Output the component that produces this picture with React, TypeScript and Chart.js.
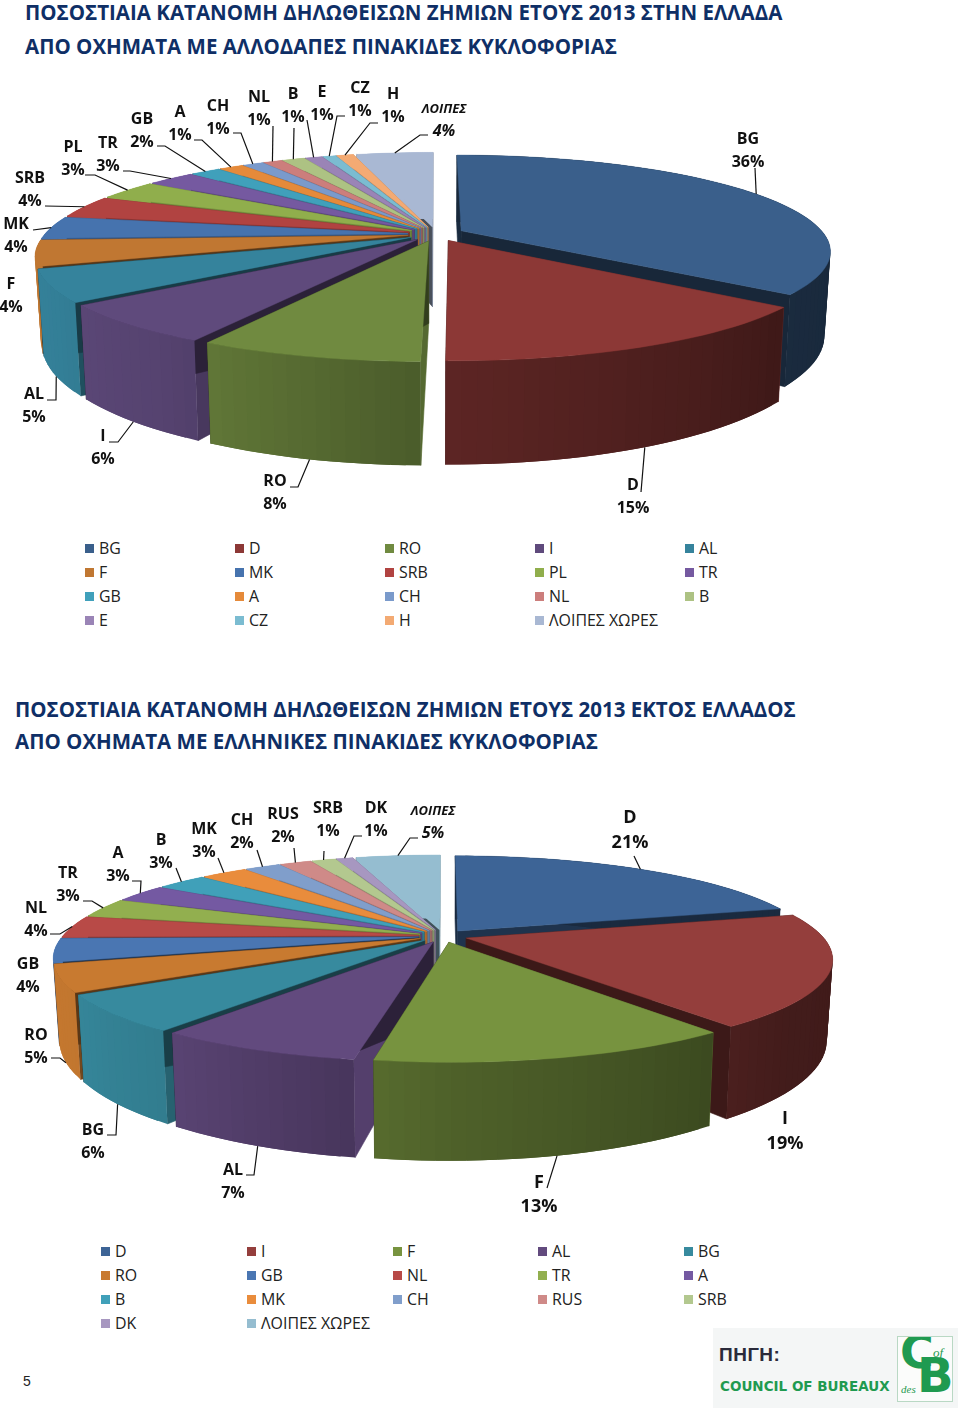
import React, { useEffect, useRef } from "react";
import Chart from "chart.js/auto";

const FONT = "'Open Sans', 'Noto Sans', sans-serif";

// ---------- data ----------
const title1 = ["ΠΟΣΟΣΤΙΑΙΑ ΚΑΤΑΝΟΜΗ ΔΗΛΩΘΕΙΣΩΝ ΖΗΜΙΩΝ ΕΤΟΥΣ 2013 ΣΤΗΝ ΕΛΛΑΔΑ", "ΑΠΟ ΟΧΗΜΑΤΑ ΜΕ ΑΛΛΟΔΑΠΕΣ ΠΙΝΑΚΙΔΕΣ ΚΥΚΛΟΦΟΡΙΑΣ"];
const title2 = ["ΠΟΣΟΣΤΙΑΙΑ ΚΑΤΑΝΟΜΗ ΔΗΛΩΘΕΙΣΩΝ ΖΗΜΙΩΝ ΕΤΟΥΣ 2013 ΕΚΤΟΣ ΕΛΛΑΔΟΣ", "ΑΠΟ ΟΧΗΜΑΤΑ ΜΕ ΕΛΛΗΝΙΚΕΣ ΠΙΝΑΚΙΔΕΣ ΚΥΚΛΟΦΟΡΙΑΣ"];

const categories1 = ["BG", "D", "RO", "I", "AL", "F", "MK", "SRB", "PL", "TR", "GB", "A", "CH", "NL", "B", "E", "CZ", "H", "ΛΟΙΠΕΣ ΧΩΡΕΣ"];
const values1 = [35.5, 14.7, 7.9, 6.49, 5.3, 4.3, 3.7, 3.6, 3.2, 2.5, 1.6, 1.3, 1.1, 1, 1.2, 0.9, 0.7, 0.9, 4.1];
const colors1 = ["#3a5f8b", "#8c3836", "#708a40", "#5f4a7c", "#35839c", "#c07732", "#4673ae", "#b14341", "#90ae4c", "#7559a0", "#40a0bb", "#e58a3a", "#7a9acb", "#cc7e7c", "#adc283", "#9a84b6", "#7bbcd1", "#f3aa73", "#a9b8d3"];

const categories2 = ["D", "I", "F", "AL", "BG", "RO", "GB", "NL", "TR", "A", "B", "MK", "CH", "RUS", "SRB", "DK", "ΛΟΙΠΕΣ ΧΩΡΕΣ"];
const values2 = [20.8, 18.7, 13.1, 7.49, 6.1, 4.5, 3.9, 3.6, 3.1, 2.9, 2.7, 2.5, 1.9, 1.7, 1.3, 0.9, 4.6];
const colors2 = ["#3d6496", "#943e3c", "#77933f", "#624a7e", "#378a9e", "#c87a30", "#4a76b2", "#b84a47", "#92af4f", "#7459a2", "#40a0b9", "#e98c3c", "#809ecb", "#cf8a88", "#b3c88f", "#a797c0", "#95bdd0"];

// ---------- label layout: [centre x, first line y, second line y, big?, leader elbow points] (page pixels) ----------
type Lay = { x: number; y1: number; y2: number; big?: boolean; pts?: number[][] };
const layout1: Lay[] = [
  { x: 748, y1: 139, y2: 162, pts: [[755, 168]] },
  { x: 633, y1: 485, y2: 508, pts: [[641, 492]] },
  { x: 275, y1: 481, y2: 504, pts: [[290, 487], [298, 487]] },
  { x: 103, y1: 436, y2: 459, pts: [[109, 442], [118, 442]] },
  { x: 34, y1: 394, y2: 417, pts: [[47, 400], [56, 400]] },
  { x: 11, y1: 284, y2: 307 },
  { x: 16, y1: 224, y2: 247, pts: [[33, 230]] },
  { x: 30, y1: 178, y2: 201, pts: [[45, 206]] },
  { x: 73, y1: 147, y2: 170, pts: [[85, 175], [95, 175]] },
  { x: 108, y1: 143, y2: 166, pts: [[123, 171], [130, 171]] },
  { x: 142, y1: 119, y2: 142, pts: [[157, 146], [165, 146]] },
  { x: 180, y1: 112, y2: 135, pts: [[194, 140], [202, 140]] },
  { x: 218, y1: 106, y2: 129, pts: [[233, 133], [241, 133]] },
  { x: 259, y1: 97, y2: 120, pts: [[273, 126]] },
  { x: 293, y1: 94, y2: 117, pts: [[294, 128]] },
  { x: 322, y1: 92, y2: 115, pts: [[307, 120]] },
  { x: 360, y1: 88, y2: 111, pts: [[345, 116], [337, 116]] },
  { x: 393, y1: 94, y2: 117, pts: [[378, 123], [370, 123]] },
  { x: 444, y1: 109, y2: 131, pts: [[428, 135], [420, 135]] },
];
const layout2: Lay[] = [
  { x: 630, y1: 818, y2: 843, big: true, pts: [[634, 856]] },
  { x: 785, y1: 1119, y2: 1144, big: true },
  { x: 539, y1: 1183, y2: 1207, big: true, pts: [[547, 1188]] },
  { x: 233, y1: 1170, y2: 1193, pts: [[246, 1175], [254, 1175]] },
  { x: 93, y1: 1130, y2: 1153, pts: [[107, 1135], [116, 1135]] },
  { x: 36, y1: 1035, y2: 1058, pts: [[51, 1058], [60, 1058]] },
  { x: 28, y1: 964, y2: 987 },
  { x: 36, y1: 908, y2: 931, pts: [[50, 934], [60, 934]] },
  { x: 68, y1: 873, y2: 896, pts: [[83, 901], [92, 901]] },
  { x: 118, y1: 853, y2: 876, pts: [[132, 881], [141, 881]] },
  { x: 161, y1: 840, y2: 863, pts: [[176, 868]] },
  { x: 204, y1: 829, y2: 852, pts: [[218, 858]] },
  { x: 242, y1: 820, y2: 843, pts: [[257, 850]] },
  { x: 283, y1: 814, y2: 837, pts: [[294, 848]] },
  { x: 328, y1: 808, y2: 831, pts: [[324, 851]] },
  { x: 376, y1: 808, y2: 831, pts: [[362, 836], [354, 836]] },
  { x: 433, y1: 811, y2: 833, pts: [[418, 838], [410, 838]] },
];

// ---------- 3D pie plugin: reads the arcs computed by Chart.js and paints them in perspective ----------
const lerpTable = (t: number[][], x: number) => {
  if (x <= t[0][0]) return t[0][1];
  for (let i = 1; i < t.length; i++) {
    if (x <= t[i][0]) {
      const [a, b] = t[i - 1], [c, d] = t[i];
      return b + ((d - b) * (x - a)) / (c - a);
    }
  }
  return t[t.length - 1][1];
};
const rimShadeTable = [[90, 0.42], [130, 0.45], [180, 0.66], [200, 0.8], [215, 0.9], [240, 0.97], [270, 1]];
const faceShadeTable = [[90, 0.75], [100, 0.86], [122, 0.74], [144, 0.6], [180, 0.45], [225, 0.4], [270, 0.45]];
const shade = (hex: string, f: number) => {
  const n = parseInt(hex.slice(1), 16);
  const c = (v: number) => Math.round(v * f);
  return `rgb(${c((n >> 16) & 255)},${c((n >> 8) & 255)},${c(n & 255)})`;
};

const pie3d = {
  id: "pie3d",
  beforeDatasetDraw(chart: any, _args: any, o: any) {
    const ctx = chart.ctx;
    const arcs = [...chart.getDatasetMeta(0).data];
    const mid = (a: any) => (a.startAngle + a.endAngle) / 2;
    arcs.sort((a, b) => Math.sin(mid(a)) - Math.sin(mid(b)));
    for (const arc of arcs) {
      const i = chart.getDatasetMeta(0).data.indexOf(arc);
      const col = chart.data.datasets[0].backgroundColor[i];
      const g = geom(arc, o);
      const deg = (a: number) => (((a + Math.PI / 2) * 180) / Math.PI + 720) % 360;
      const apex = g.top(0, 0);
      const quad = (p: number[], q: number[], fill: string, edge: boolean) => {
        ctx.beginPath();
        ctx.moveTo(p[0], p[1]);
        ctx.lineTo(q[0], q[1]);
        const qb = g.down(q), pb = g.down(p);
        ctx.lineTo(qb[0], qb[1]);
        ctx.lineTo(pb[0], pb[1]);
        ctx.closePath();
        ctx.fillStyle = fill;
        ctx.fill();
        if (edge) {
          ctx.strokeStyle = fill;
          ctx.lineWidth = 0.6;
          ctx.stroke();
        }
      };
      const sa = arc.startAngle, ea = arc.endAngle;
      // radial faces
      let startPhi = deg(sa) - 90; if (startPhi < 0) startPhi += 360;
      const endPhi = (deg(ea) + 90) % 360;
      quad(g.top(sa, 1), apex, shade(col, lerpTable(faceShadeTable, startPhi)), true);
      quad(g.top(ea, 1), apex, shade(col, lerpTable(faceShadeTable, endPhi)), true);
      // rim: each strip runs under the next one, so there are no seams between them
      const step = (2 * Math.PI) / 180;
      const n = Math.max(1, Math.ceil((ea - sa) / step));
      for (let k = 0; k < n; k++) {
        const a0 = sa + ((ea - sa) * k) / n, a1 = sa + ((ea - sa) * Math.min(n, k + 2)) / n;
        const d = deg(sa + ((ea - sa) * (k + 0.5)) / n);
        quad(g.top(a0, 1), g.top(a1, 1), shade(col, d > 270 ? 1 : lerpTable(rimShadeTable, d)), false);
      }
      // top face
      ctx.beginPath();
      ctx.moveTo(apex[0], apex[1]);
      for (let k = 0; k <= n; k++) {
        const p = g.top(sa + ((ea - sa) * k) / n, 1);
        ctx.lineTo(p[0], p[1]);
      }
      ctx.closePath();
      ctx.fillStyle = col;
      ctx.strokeStyle = col;
      ctx.lineWidth = 0.4;
      ctx.fill();
      ctx.stroke();
    }
    return false;
  },
  afterDraw(chart: any, _args: any, o: any) {
    const ctx = chart.ctx;
    const data = chart.getDatasetMeta(0).data;
    const values = chart.data.datasets[0].data;
    const names = chart.data.labels;
    ctx.save();
    ctx.fillStyle = "#111";
    ctx.strokeStyle = "#111";
    ctx.textAlign = "center";
    ctx.textBaseline = "middle";
    o.layout.forEach((l: Lay, i: number) => {
      const arc = data[i];
      const isOther = String(names[i]).startsWith("ΛΟΙΠΕΣ");
      const size = l.big ? 18 : 16;
      ctx.font = isOther ? `italic bold 13px ${FONT}` : `bold ${size}px ${FONT}`;
      ctx.fillText(isOther ? "ΛΟΙΠΕΣ" : names[i], l.x, l.y1 - o.top);
      ctx.font = isOther ? `italic bold ${size}px ${FONT}` : `bold ${size}px ${FONT}`;
      ctx.fillText(`${Math.round(values[i])}%`, l.x, l.y2 - o.top);
      if (l.pts) {
        const g = geom(arc, o);
        const m = (arc.startAngle + arc.endAngle) / 2;
        const t = g.top(m, 1);
        const e = Math.sin(m) > 0.3 ? g.down(t) : t;
        ctx.lineWidth = 1.2;
        ctx.beginPath();
        l.pts.forEach((p, k) => (k ? ctx.lineTo(p[0], p[1] - o.top) : ctx.moveTo(p[0], p[1] - o.top)));
        ctx.lineTo(e[0], e[1]);
        ctx.stroke();
      }
    });
    ctx.restore();
  },
};

function geom(arc: any, o: any) {
  const m = (arc.startAngle + arc.endAngle) / 2;
  const off = (arc.options.offset || 0) / arc.outerRadius;
  const dx = off * Math.cos(m), dy = off * Math.sin(m);
  const proj = (u: number, v: number) => {
    const s = 1 / (1 - o.persp * v);
    return [arc.x + o.radius * u * s, arc.y + o.rise * v * s, s];
  };
  return {
    top: (a: number, r: number) => proj(dx + r * Math.cos(a), dy + r * Math.sin(a)),
    down: (p: number[]) => [arc.x + (p[0] - arc.x) * 0.985, p[1] + o.depth * p[2], p[2]],
  };
}

// ---------- components ----------
function Pie(props: { top: number; height: number; cx: number; cy: number; labels: string[]; values: number[]; colors: string[]; layout: Lay[]; depth: number; offset: number; radius: number }) {
  const ref = useRef<HTMLCanvasElement>(null);
  useEffect(() => {
    const { top, height, cx, cy, labels, values, colors, layout, depth, offset, radius } = props;
    const chart = new Chart(ref.current!, {
      type: "pie",
      data: { labels, datasets: [{ data: values, backgroundColor: colors, borderWidth: 0, offset }] },
      options: {
        responsive: false,
        animation: false,
        layout: { padding: { right: 960 - cx * 2, bottom: height - (cy - top) * 2, left: 0, top: 0 } },
        plugins: {
          legend: { display: false },
          tooltip: { enabled: false },
          pie3d: { radius, rise: 92.5, persp: 0.205, depth, layout, top },
        } as any,
      },
      plugins: [pie3d],
    } as any);
    return () => chart.destroy();
  }, []);
  return <canvas ref={ref} width={960} height={props.height} style={{ position: "absolute", left: 0, top: props.top, width: 960, height: props.height }} />;
}

function Legend(props: { names: string[]; colors: string[]; xs: number[]; y0: number }) {
  return (
    <>
      {props.names.map((n, i) => {
        const x = props.xs[i % 5];
        const y = props.y0 + Math.floor(i / 5) * 24;
        return (
          <React.Fragment key={n + i}>
            <div style={{ position: "absolute", left: x, top: y - 4.5, width: 9, height: 9, background: props.colors[i] }} />
            <div style={{ position: "absolute", left: x + 14, top: y - 12, height: 24, lineHeight: "24px", fontFamily: FONT, fontSize: 15.9, color: "#222", whiteSpace: "nowrap" }}>{n}</div>
          </React.Fragment>
        );
      })}
    </>
  );
}

function Title(props: { lines: string[]; x: number; ys: number[]; size: number; spacing: number }) {
  return (
    <>
      {props.lines.map((t, i) => (
        <div key={i} style={{ position: "absolute", left: props.x, top: props.ys[i] - 15, height: 30, lineHeight: "30px", fontFamily: FONT, fontWeight: 700, fontSize: props.size, letterSpacing: props.spacing, color: "#0f2f66", whiteSpace: "nowrap" }}>{t}</div>
      ))}
    </>
  );
}

function Logo() {
  const green = "#1f9a50";
  return (
    <div style={{ position: "absolute", left: 713, top: 1328, width: 245, height: 80, background: "#f4f6f6", overflow: "hidden" }}>
      <div style={{ position: "absolute", left: 6, top: 16, fontFamily: "'Liberation Sans'", fontWeight: 700, fontSize: 19, color: "#2a2a3a", letterSpacing: 0.5 }}>ΠΗΓΗ:</div>
      <div style={{ position: "absolute", left: 7, top: 50, fontFamily: "'DejaVu Sans'", fontWeight: 700, fontSize: 13.5, color: green, whiteSpace: "nowrap" }}>COUNCIL OF BUREAUX</div>
      <div style={{ position: "absolute", left: 184, top: 8, width: 54, height: 64, border: "1px solid #b9d8c4", background: "#fbfcfb", overflow: "hidden" }}>
        <div style={{ position: "absolute", left: 2, top: -12, fontFamily: "'DejaVu Sans'", fontWeight: 700, fontSize: 46, color: green }}>C</div>
        <div style={{ position: "absolute", left: 19, top: 10, fontFamily: "'DejaVu Sans'", fontWeight: 700, fontSize: 48, color: green }}>B</div>
        <div style={{ position: "absolute", left: 35, top: 8, fontFamily: "'Liberation Serif'", fontStyle: "italic", fontSize: 13, color: green }}>of</div>
        <div style={{ position: "absolute", left: 3, top: 46, fontFamily: "'Liberation Serif'", fontStyle: "italic", fontSize: 11, color: green }}>des</div>
      </div>
    </div>
  );
}

export default function App() {
  return (
    <div style={{ position: "absolute", left: 0, top: 0, width: 960, height: 1410, background: "#fff", overflow: "hidden" }}>
      <Title lines={title1} x={25} ys={[12, 46]} size={20.5} spacing={0} />
      <Pie top={60} height={470} cx={436} cy={234} labels={categories1} values={values1} colors={colors1} layout={layout1} depth={81} offset={13} radius={363} />
      <Legend names={categories1} colors={colors1} xs={[85, 235, 385, 535, 685]} y0={548} />
      <Title lines={title2} x={15} ys={[709, 741]} size={20.5} spacing={0} />
      <Pie top={770} height={460} cx={443} cy={936} labels={categories2} values={values2} colors={colors2} layout={layout2} depth={77} offset={11} radius={356} />
      <Legend names={categories2} colors={colors2} xs={[101, 247, 393, 538, 684]} y0={1251} />
      <div style={{ position: "absolute", left: 23, top: 1373, fontFamily: "'Liberation Sans'", fontSize: 14, lineHeight: "16px", color: "#222" }}>5</div>
      <Logo />
    </div>
  );
}
